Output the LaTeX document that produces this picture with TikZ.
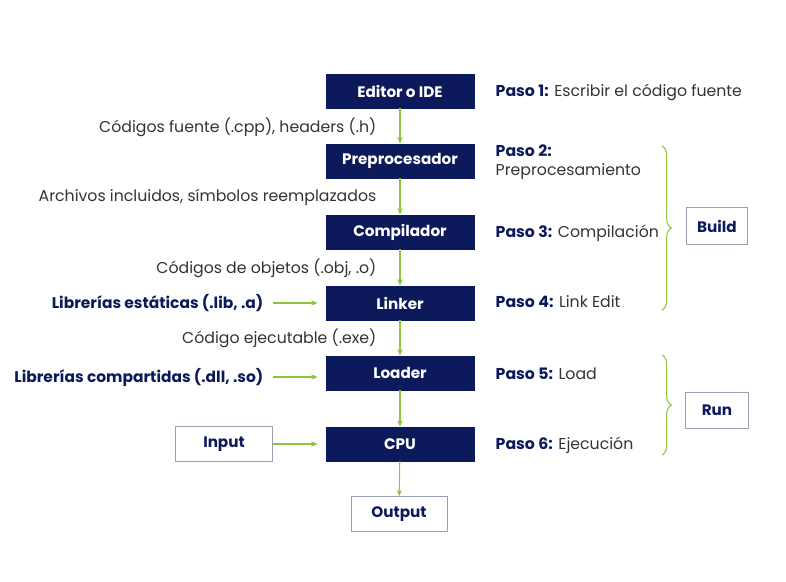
\documentclass[tikz,border=0pt]{standalone}
\usepackage{fontspec}
\setmainfont{Poppins}
\usepackage{xcolor}
\usetikzlibrary{arrows.meta,decorations.pathreplacing}
\definecolor{navy}{HTML}{0C1A5B}
\definecolor{flowgreen}{HTML}{8CC63F}
\definecolor{textgray}{HTML}{333333}
\definecolor{framegray}{HTML}{9AA0B4}

\begin{document}
\begin{tikzpicture}[x=0.75pt, y=-0.75pt,
        font=\fontsize{11.8}{14}\selectfont,
        stage/.style={draw=navy, fill=navy, text=white, font=\fontsize{11.4}{14}\selectfont\bfseries,
            minimum width=111pt, minimum height=25.5pt, inner sep=0pt},
        io/.style={draw=framegray, fill=white, text=navy, font=\fontsize{11.4}{14}\selectfont\bfseries,
            minimum width=72pt, minimum height=26pt, inner sep=0pt},
        flow/.style={->, >={Stealth[length=5pt, width=4pt]}, flowgreen, thick},
        carry/.style={anchor=east, text=textgray},
        lib/.style={anchor=east, text=navy, font=\fontsize{11.6}{14}\selectfont\bfseries},
        paso/.style={anchor=west, text=textgray, align=left},
        grp/.style={decorate, decoration={brace, amplitude=7pt}, flowgreen, thick}]
        \useasboundingbox (0,0) rectangle (786,582);

        % Stages
        \node[stage] (editor) at (400,91) {Editor o IDE};
        \node[stage] (prep) at (400,161) {Preprocesador};
        \node[stage] (comp) at (400,232) {Compilador};
        \node[stage] (linker) at (400,303) {Linker};
        \node[stage] (loader) at (400,373) {Loader};
        \node[stage] (cpu) at (400,444) {CPU};
        \node[io] (output) at (399,514) {Output};
        \node[io, minimum width=73pt] (input) at (224,444) {Input};

        \draw[flow] (editor) -- (prep);
        \draw[flow] (prep) -- (comp);
        \draw[flow] (comp) -- (linker);
        \draw[flow] (linker) -- (loader);
        \draw[flow] (loader) -- (cpu);
        \draw[flow] (cpu) -- (output);

        % What passes between stages
        \node[carry] (src) at (381,127) {Códigos fuente (.cpp), headers (.h)};
        \node[carry] (incl) at (381,197) {Archivos incluidos, símbolos reemplazados};
        \node[carry] (obj) at (381,268) {Códigos de objetos (.obj, .o)};
        \node[carry] (exe) at (381,338) {Código ejecutable (.exe)};

        % Libraries and input
        \node[lib] (static) at (268,303) {Librerías estáticas (.lib, .a)};
        \node[lib] (shared) at (268,377) {Librerías compartidas (.dll, .so)};
        \draw[flow] ([xshift=4pt]static.east) -- ([xshift=-6pt]linker.west |- static.east);
        \draw[flow] ([xshift=4pt]shared.east) -- ([xshift=-6pt]loader.west |- shared.east);
        \draw[flow] (input) -- ([xshift=-6pt]cpu.west);

        % Steps
        \node[paso] (p1) at (491,92) {\textcolor{navy}{\bfseries Paso 1:} Escribir el código fuente};
        \node[paso] (p2) at (491,162) {\textcolor{navy}{\bfseries Paso 2:}\\Preprocesamiento};
        \node[paso] (p3) at (491,233) {\textcolor{navy}{\bfseries Paso 3:} Compilación};
        \node[paso] (p4) at (491,302) {\textcolor{navy}{\bfseries Paso 4:} Link Edit};
        \node[paso] (p5) at (491,374) {\textcolor{navy}{\bfseries Paso 5:} Load};
        \node[paso] (p6) at (491,445) {\textcolor{navy}{\bfseries Paso 6:} Ejecución};

        % Build / Run
        \coordinate (b0) at (662,146);
        \coordinate (b1) at (662,310);
        \coordinate (r0) at (662,355);
        \coordinate (r1) at (662,455);
        \draw[grp] (b0) -- (b1);
        \draw[grp] (r0) -- (r1);
        \node[io, minimum width=46pt, minimum height=28pt] (build) at (717,226) {Build};
        \node[io, minimum width=47pt, minimum height=27pt] (run) at (717,410) {Run};
    \end{tikzpicture}
\end{document}
